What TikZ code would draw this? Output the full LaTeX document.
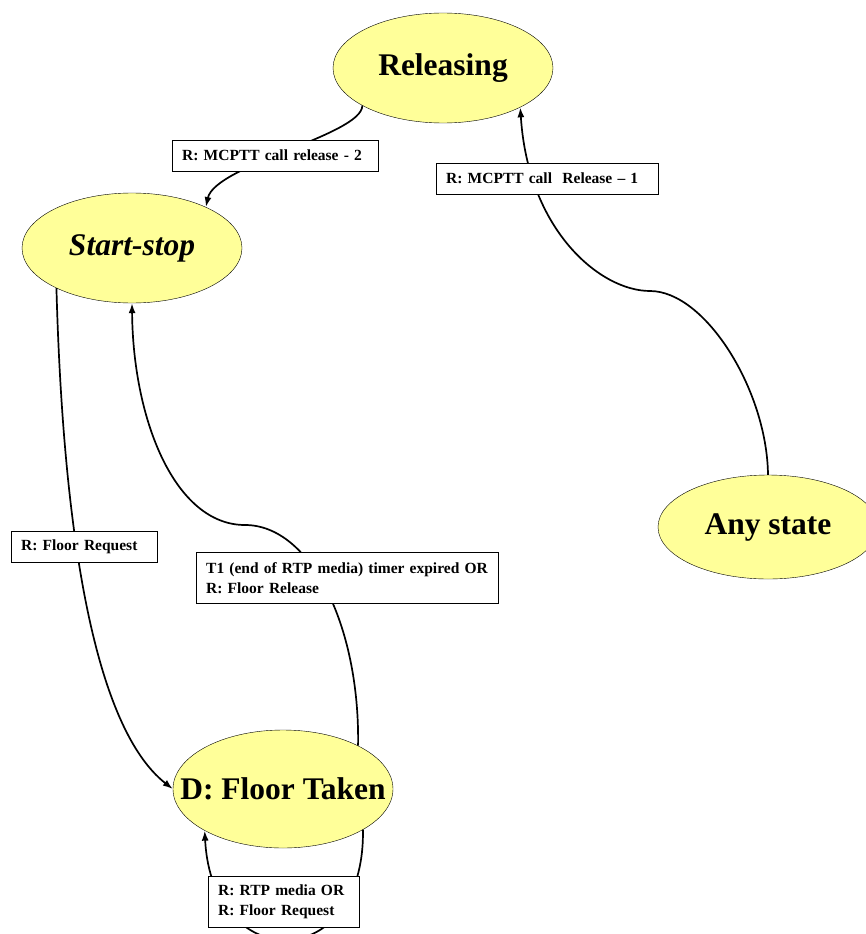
\documentclass[tikz,border=0pt]{standalone}
\usepackage{fontspec}
\setmainfont{Liberation Serif}
\usetikzlibrary{positioning, shapes.geometric, arrows.meta}
\definecolor{stateyellow}{HTML}{FFFF99}

\begin{document}
\begin{tikzpicture}[
      x=1pt, y=-1pt,
      state/.style={ellipse, draw, thin, fill=stateyellow, minimum width=220pt,
        minimum height=110pt, inner sep=0pt, font=\fontsize{31.5}{36}\selectfont\bfseries},
      cond/.style={rectangle, draw, thin, fill=white, anchor=north west, align=left,
        inner xsep=10pt, inner ysep=0pt, minimum height=31pt,
        font=\fontsize{15.5}{20}\selectfont\bfseries},
      trans/.style={-{Latex[length=10pt, width=7pt]}, line width=1.7pt}
  ]
  \useasboundingbox (0,0) rectangle (866,934);
  \clip (0,0) rectangle (866,934);

  % states
  \node[state] (rel) at (443,68) {\makebox[0pt]{Releasing}};
  \node[state, font=\fontsize{31.5}{36}\selectfont\bfseries\itshape] (start) at (132,248)
    {\makebox[0pt]{Start-stop}};
  \node[state, minimum height=104pt] (any) at (768,527) {\makebox[0pt]{Any state}};
  \node[state, minimum height=118pt] (taken) at (283,789) {\makebox[0pt]{D: Floor Taken}};

  \coordinate (anybend) at (650,291);
  \coordinate (takenbend) at (245,525);

  % transitions
  \draw[trans] (rel.205) .. controls (362,135) and (215,165) .. (start.29);
  \draw[trans] (any.north) .. controls (767,390) and (705,291) .. (anybend)
    .. controls (600,291) and (528,230) .. (rel.-27);
  \draw[trans] (start.208) .. controls (65,600) and (110,740) .. (taken.west);
  \draw[trans] (taken.30) .. controls (360,625) and (310,525) .. (takenbend)
    .. controls (175,525) and (133,420) .. (start.south);
  \draw[trans] (taken.-27) .. controls (365,975) and (212,975) .. (taken.-152);

  % conditions
  \node[cond, text width=186pt] (crel2) at (172,140) {R: MCPTT call release - 2};
  \node[cond, text width=202pt] (crel1) at (436,163) {R: MCPTT call~~Release -- 1};
  \node[cond, text width=126pt] (creq) at (11,531) {R: Floor Request};
  \node[cond, text width=282pt, minimum height=51pt] (ct1) at (196,552)
    {T1 (end of RTP media) timer expired OR\\R: Floor Release};
  \node[cond, text width=131pt, minimum height=51pt] (crtp) at (208,876)
    {R: RTP media OR\\R: Floor Request};
\end{tikzpicture}
\end{document}
